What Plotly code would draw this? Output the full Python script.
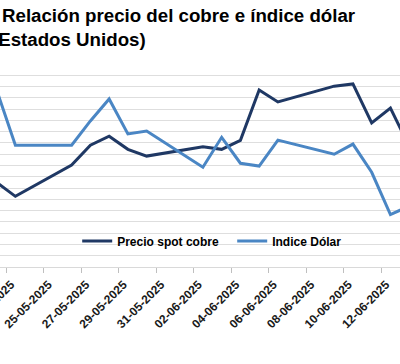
import plotly.graph_objects as go

# ---- data ----
fechas = ["2025-05-22", "2025-05-23", "2025-05-26", "2025-05-27", "2025-05-28",
          "2025-05-29", "2025-05-30", "2025-06-02", "2025-06-03", "2025-06-04",
          "2025-06-05", "2025-06-06", "2025-06-09", "2025-06-10", "2025-06-11",
          "2025-06-12", "2025-06-13"]
precio_cobre = [9525, 9488, 9571, 9624, 9648, 9613, 9595, 9620, 9613, 9637,
                9771, 9739, 9781, 9787, 9683, 9723, 9621]
indice_dolar = [100.14, 99.16, 99.16, 99.59, 99.98, 99.36, 99.41, 98.77, 99.30,
                98.84, 98.79, 99.25, 99.00, 99.18, 98.68, 97.93, 98.08]
tick_fechas = ["2025-05-23", "2025-05-25", "2025-05-27", "2025-05-29", "2025-05-31",
               "2025-06-02", "2025-06-04", "2025-06-06", "2025-06-08", "2025-06-10",
               "2025-06-12"]
tick_labels = ["23-05-2025", "25-05-2025", "27-05-2025", "29-05-2025", "31-05-2025",
               "02-06-2025", "04-06-2025", "06-06-2025", "08-06-2025", "10-06-2025",
               "12-06-2025"]

FONT = "Liberation Sans, Arial, sans-serif"

fig = go.Figure()
fig.add_trace(go.Scatter(
    x=fechas, y=precio_cobre, name="Precio spot cobre", mode="lines",
    line=dict(color="#1f3864", width=3),
    xperiod=86400000, xperiodalignment="middle"))
fig.add_trace(go.Scatter(
    x=fechas, y=indice_dolar, name="Indice Dólar", mode="lines",
    line=dict(color="#4a86c4", width=3), yaxis="y2",
    xperiod=86400000, xperiodalignment="middle"))

fig.update_layout(
    width=400, height=364,
    margin=dict(l=0, r=0, t=64, b=97, autoexpand=False),
    paper_bgcolor="white", plot_bgcolor="white",
    font=dict(family=FONT, color="#000000"),
    showlegend=True,
    legend=dict(orientation="h", x=0.193, xanchor="left", y=0.128, yanchor="middle",
                bgcolor="rgba(0,0,0,0)", font=dict(size=12, weight="bold", color="#000000"),
                itemwidth=30, entrywidth=110, entrywidthmode="pixels"),
    xaxis=dict(type="date", range=["2025-05-22 16:19", "2025-06-13 00:15"],
               tickmode="array", tickvals=tick_fechas, ticktext=tick_labels,
               tickangle=-45, ticks="outside", ticklen=5, tickcolor="#bfbfbf",
               showline=True, linecolor="#d9d9d9", linewidth=1, showgrid=False,
               ticklabeloverflow="allow", automargin=False, ticklabelshift=5,
               tickfont=dict(size=12, weight="bold", color="#1a1a1a", family=FONT)),
    yaxis=dict(range=[9300, 9840], dtick=30, tick0=9300, showticklabels=False,
               showgrid=True, gridcolor="#dedede", gridwidth=1, zeroline=False,
               ticks="", automargin=False),
    yaxis2=dict(range=[97.0, 100.6], overlaying="y", side="right", showgrid=False,
                showticklabels=False, zeroline=False, ticks="", automargin=False),
    annotations=[
        dict(text="Relación precio del cobre e índice dólar", xref="paper", yref="paper",
             x=0, y=1 + (64 - 3) / 203, xanchor="left", yanchor="top", showarrow=False,
             font=dict(size=18.7, weight="bold", color="#000000", family=FONT)),
        dict(text="(Estados Unidos)", xref="paper", yref="paper",
             x=-10/400, y=1 + (64 - 27) / 203, xanchor="left", yanchor="top", showarrow=False,
             font=dict(size=18.7, weight="bold", color="#000000", family=FONT)),
    ],
)

fig.write_html("out.html", config={"displayModeBar": False},
               post_script="document.body.style.margin='0px';")
